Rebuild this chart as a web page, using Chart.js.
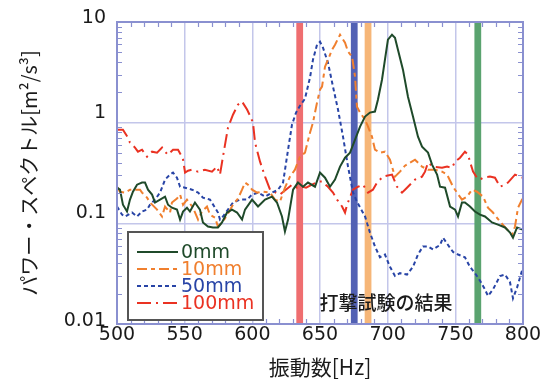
<!DOCTYPE html>
<html><head><meta charset="utf-8">
<script src="https://cdn.jsdelivr.net/npm/chart.js@4.4.1/dist/chart.umd.min.js"></script>
<style>html,body{margin:0;padding:0;background:#fff;}canvas{display:block;}</style>
</head><body>
<canvas id="c" width="545" height="380"></canvas>
<script>
// ---- data (frequency in Hz, power spectrum values) ----
const f0mm = [500,502.2,504.4,507.4,509.6,511.8,514.8,518.5,520.7,522.9,525.9,528.1,531.8,535.5,537.7,540.6,544.3,546.6,548.8,551.7,553.9,557.6,561.3,563.5,567.2,570.9,574.6,577.6,581.3,585,588.7,592.4,594.6,599.8,604.2,609.4,614.5,618.2,621.9,624.1,626.4,630.1,633.7,637.4,641.1,646.3,650,653.7,657.4,661.1,664.8,668.5,672.2,675.9,679.6,683.3,686.9,690.6,692.8,695.8,698,700.2,703.2,705.4,707.6,711.3,715,718.7,722.4,725.4,729.8,732.8,736.5,738.7,742.4,746.1,749.8,752,754.9,757.1,760.8,764.5,768.2,771.9,777.1,781.5,786.7,790.4,792.6,795.6,799.3,800];
const v0mm = [0.226,0.216,0.153,0.131,0.172,0.206,0.242,0.254,0.254,0.216,0.193,0.161,0.172,0.184,0.153,0.143,0.137,0.109,0.131,0.143,0.131,0.161,0.137,0.102,0.093,0.091,0.091,0.102,0.128,0.137,0.128,0.109,0.137,0.172,0.147,0.172,0.184,0.161,0.117,0.083,0.109,0.216,0.254,0.231,0.254,0.231,0.319,0.284,0.231,0.272,0.366,0.449,0.504,0.678,0.913,1.15,1.26,1.29,1.69,2.67,4.22,6.67,7.48,6.98,5.31,3.36,1.81,1.15,0.726,0.578,0.504,0.383,0.305,0.231,0.226,0.147,0.137,0.117,0.161,0.161,0.147,0.131,0.122,0.117,0.102,0.097,0.091,0.081,0.072,0.091,0.087,0.089];

const f10mm = [500,502.2,505.9,509.6,513.3,517,518.5,522.2,524.4,529.6,533.3,535.5,539.2,540.6,544.3,546.6,548.8,551.7,556.2,559.9,562.8,566.5,568.7,572.4,574.6,578.3,582,585.7,589.4,592.4,594.6,596.8,599.8,603.5,607.9,613.1,616.7,620.4,624.1,627.8,631.5,635.2,638.9,642.6,644.8,647.8,650,651.5,653.7,655.9,658.9,661.1,664.8,668.5,670.7,673.7,675.9,677.3,679.6,683.3,685.5,688.4,690.6,694.3,698,701.7,705.4,709.1,712.8,716.5,720.2,725.4,729.8,735,740.2,743.9,748.3,751.2,754.9,758.6,762.3,766,770.5,774.1,777.8,783,788.2,791.9,794.1,796.3,799.3,800];
const v10mm = [0.231,0.206,0.202,0.216,0.216,0.216,0.202,0.180,0.161,0.137,0.117,0.147,0.128,0.161,0.176,0.193,0.153,0.172,0.143,0.109,0.131,0.147,0.122,0.114,0.093,0.104,0.125,0.153,0.176,0.216,0.254,0.242,0.216,0.202,0.206,0.202,0.172,0.164,0.226,0.291,0.341,0.459,0.504,0.796,1.0,1.58,2.13,2.28,3.60,4.22,5.31,5.95,7.48,6.23,5.07,4.52,2.86,1.44,1.26,1.07,0.913,0.726,0.539,0.504,0.515,0.429,0.291,0.326,0.374,0.401,0.429,0.366,0.341,0.341,0.326,0.305,0.231,0.202,0.172,0.184,0.216,0.206,0.184,0.143,0.128,0.104,0.087,0.077,0.093,0.143,0.172,0.172];

const f50mm = [500,503.7,505.9,511.1,514.8,518.5,522.2,524.4,528.1,531.8,535.5,539.2,541.4,544.3,546.6,550.3,555.4,559.9,563.5,568.7,572.4,574.6,576.1,578.3,582,585.7,590.9,596.1,599.8,604.2,609.4,614.5,619,622.7,626.4,629.3,632.3,635.2,638.9,642.6,644.8,647.8,650,652.2,655.9,659.6,663.3,667,670.7,674.4,677.3,683.3,686.9,690.6,694.3,698,701.7,705.4,709.1,714.3,718.7,722.4,726.1,729.8,733.5,738.7,740.9,744.6,748.3,752,757.1,760.8,764.5,768.2,771.9,774.1,777.8,783,786.7,790.4,792.6,795.6,799.3,800];
const v50mm = [0.147,0.122,0.117,0.128,0.117,0.131,0.137,0.153,0.172,0.202,0.272,0.305,0.319,0.284,0.231,0.226,0.216,0.202,0.180,0.172,0.143,0.128,0.109,0.117,0.137,0.161,0.172,0.172,0.193,0.202,0.184,0.202,0.216,0.254,0.539,0.955,1.26,1.47,1.73,2.80,4.22,5.95,6.36,5.56,3.94,2.28,1.35,0.726,0.366,0.202,0.164,0.117,0.081,0.059,0.046,0.049,0.037,0.030,0.032,0.031,0.037,0.049,0.059,0.059,0.055,0.061,0.072,0.061,0.052,0.049,0.046,0.037,0.032,0.027,0.022,0.019,0.022,0.030,0.031,0.026,0.018,0.023,0.034,0.035];

const f100mm = [500,504.4,508.1,509.6,513.3,515.5,518.5,522.2,525.9,529.6,533.3,535.5,537.7,541.4,545.1,548,548.8,550.3,552.5,555.4,559.9,565,570.2,573.9,576.1,578.3,582,585.7,589.4,592.4,596.1,598.3,600.5,602,605.7,609.4,613.1,620.4,629.3,633,636.7,639.7,644.1,648.5,651.5,655.9,659.6,662.6,666.3,668.5,670,674.4,678.1,681.8,685.5,689.1,692.1,696.6,703.2,706.9,710.6,712.8,715,720.2,725.4,727.6,729.8,733.5,740.2,743.9,747.5,749.8,753.5,757.1,759.4,760.8,763.1,766,768.2,770.5,775.6,779.3,783,786.7,788.9,794.1,797.8,800];
const v100mm = [0.852,0.852,0.710,0.633,0.565,0.515,0.539,0.459,0.515,0.504,0.565,0.515,0.481,0.539,0.539,0.459,0.429,0.319,0.333,0.341,0.326,0.341,0.326,0.366,0.305,0.459,0.892,1.20,1.51,1.62,1.35,1.17,1.0,0.633,0.410,0.291,0.216,0.193,0.242,0.226,0.231,0.226,0.242,0.260,0.260,0.231,0.202,0.172,0.147,0.128,0.153,0.216,0.231,0.242,0.202,0.216,0.254,0.291,0.305,0.231,0.202,0.216,0.231,0.272,0.291,0.326,0.401,0.366,0.357,0.366,0.357,0.410,0.449,0.515,0.481,0.410,0.326,0.284,0.272,0.284,0.291,0.284,0.231,0.242,0.254,0.305,0.291,0.284];

const seriesNames = ['0mm','10mm','50mm','100mm'];
const yTickValues = [0.01, 0.1, 1, 10];
const yTickLabels = ['0.01','0.1','1','10'];
const bandFreqs = [635, 675.3, 685.5, 766.6];
const bandColors = ['#ef6e70','#5261b4','#f6b678','#5aa36f'];
const annotationText = '打撃試験の結果';
const xTitle = '振動数[Hz]';
const yTitle = 'パワー・スペクトル[m²/s³]';

// ---- styles ----
const colors = ['#1f4a2a','#f07f2e','#2844a6','#ea3222'];
const dashes = [[], [10,4,4,4], [4,3], [14,5,2,5]];
const bandWidthHz = 5;
const borderColor = '#8a90d0';
const gridColor = '#c3c6ea';
const textColor = '#1a1a1a';
const latin = '"DejaVu Sans", sans-serif';
const cjk = '"Noto Sans CJK JP", sans-serif';
const yLabelShift = [-3, -10, -10, -4];

const series = [[f0mm, v0mm], [f10mm, v10mm], [f50mm, v50mm], [f100mm, v100mm]];
const datasets = series.map(([fs, vs], i) => ({
  label: seriesNames[i],
  data: fs.map((f, j) => ({x: f, y: vs[j]})),
  borderColor: colors[i],
  borderDash: dashes[i],
  borderWidth: 2,
  pointRadius: 0,
  tension: 0,
  fill: false
}));

const isDecade = v => Math.abs(Math.log10(v) - Math.round(Math.log10(v))) < 1e-6;

const bandPlugin = {
  id: 'bands',
  beforeDatasetsDraw(chart) {
    const {ctx, chartArea: a, scales: {x, y}} = chart;
    ctx.save();
    bandFreqs.forEach((f, i) => {
      const x0 = x.getPixelForValue(f - bandWidthHz / 2);
      const x1 = x.getPixelForValue(f + bandWidthHz / 2);
      ctx.fillStyle = bandColors[i];
      ctx.fillRect(x0, a.top, x1 - x0, a.bottom - a.top);
    });
    // y tick labels
    ctx.fillStyle = textColor;
    ctx.font = '19px ' + latin;
    ctx.textAlign = 'right';
    ctx.textBaseline = 'middle';
    yTickValues.forEach((v, i) => {
      ctx.fillText(yTickLabels[i], a.left - 11, y.getPixelForValue(v) + yLabelShift[i]);
    });
    ctx.restore();
  }
};

const framePlugin = {
  id: 'frame',
  afterDatasetsDraw(chart) {
    const {ctx, chartArea: a, scales: {x, y}} = chart;
    ctx.save();
    ctx.strokeStyle = borderColor;
    ctx.lineWidth = 1.2;
    const tl = 5;
    ctx.beginPath();
    for (let f = x.min + 10; f < x.max; f += 10) {
      if (f % 50 === 0) continue;
      const px = Math.round(x.getPixelForValue(f)) + 0.5;
      ctx.moveTo(px, a.top); ctx.lineTo(px, a.top + tl);
      ctx.moveTo(px, a.bottom); ctx.lineTo(px, a.bottom - tl);
    }
    [0.01, 0.1, 1].forEach(d => {
      for (let m = 2; m <= 9; m++) {
        const py = Math.round(y.getPixelForValue(d * m)) + 0.5;
        ctx.moveTo(a.left, py); ctx.lineTo(a.left + tl, py);
        ctx.moveTo(a.right, py); ctx.lineTo(a.right - tl, py);
      }
    });
    ctx.stroke();
    ctx.lineWidth = 2;
    ctx.strokeRect(a.left, a.top, a.right - a.left, a.bottom - a.top);
    ctx.restore();
  },
  afterDraw(chart) {
    const {ctx} = chart;
    ctx.save();
    // legend box
    const lx = 128, ly = 232, lw = 135, lh = 88;
    ctx.fillStyle = '#fff';
    ctx.fillRect(lx, ly, lw, lh);
    ctx.strokeStyle = '#555';
    ctx.lineWidth = 2;
    ctx.strokeRect(lx, ly, lw, lh);
    ctx.font = '19px ' + latin;
    ctx.textBaseline = 'middle';
    ctx.textAlign = 'left';
    seriesNames.forEach((name, i) => {
      const yy = 252 + i * 17;
      ctx.strokeStyle = colors[i];
      ctx.lineWidth = 2;
      ctx.setLineDash(dashes[i]);
      ctx.beginPath(); ctx.moveTo(137, yy); ctx.lineTo(178, yy); ctx.stroke();
      ctx.setLineDash([]);
      ctx.fillStyle = colors[i];
      ctx.fillText(name, 181, yy + 1);
    });
    // annotation
    ctx.fillStyle = textColor;
    ctx.font = '500 19px ' + cjk;
    ctx.textAlign = 'center';
    ctx.fillText(annotationText, 386, 303);
    ctx.restore();
  }
};

new Chart(document.getElementById('c'), {
  type: 'line',
  data: {datasets},
  plugins: [bandPlugin, framePlugin],
  options: {
    responsive: false,
    animation: false,
    devicePixelRatio: 1,
    layout: {padding: {top: 22, right: 22, left: 0, bottom: 0}},
    plugins: {legend: {display: false}, tooltip: {enabled: false}},
    scales: {
      x: {
        type: 'linear', min: 500, max: 800,
        border: {display: false},
        grid: {color: gridColor, lineWidth: 1.5, drawTicks: false, tickLength: 0},
        ticks: {stepSize: 50, padding: 0, color: textColor, font: {family: latin, size: 19}, maxRotation: 0},
        title: {display: true, text: xTitle, color: textColor, font: {family: cjk, size: 21}, padding: {top: 0, bottom: 0}},
        afterFit(s) { s.height = 56; }
      },
      y: {
        type: 'logarithmic', min: 0.01, max: 10,
        border: {display: false},
        grid: {color: c => (c.tick && isDecade(c.tick.value)) ? gridColor : 'rgba(0,0,0,0)', lineWidth: 1.5, drawTicks: false, tickLength: 0},
        ticks: {autoSkip: false, display: false},
        title: {display: true, text: yTitle, color: textColor, font: {family: cjk, size: 20}, padding: {top: 17, bottom: 0}},
        afterFit(s) { s.width = 117; }
      }
    }
  }
});
</script>
</body></html>
